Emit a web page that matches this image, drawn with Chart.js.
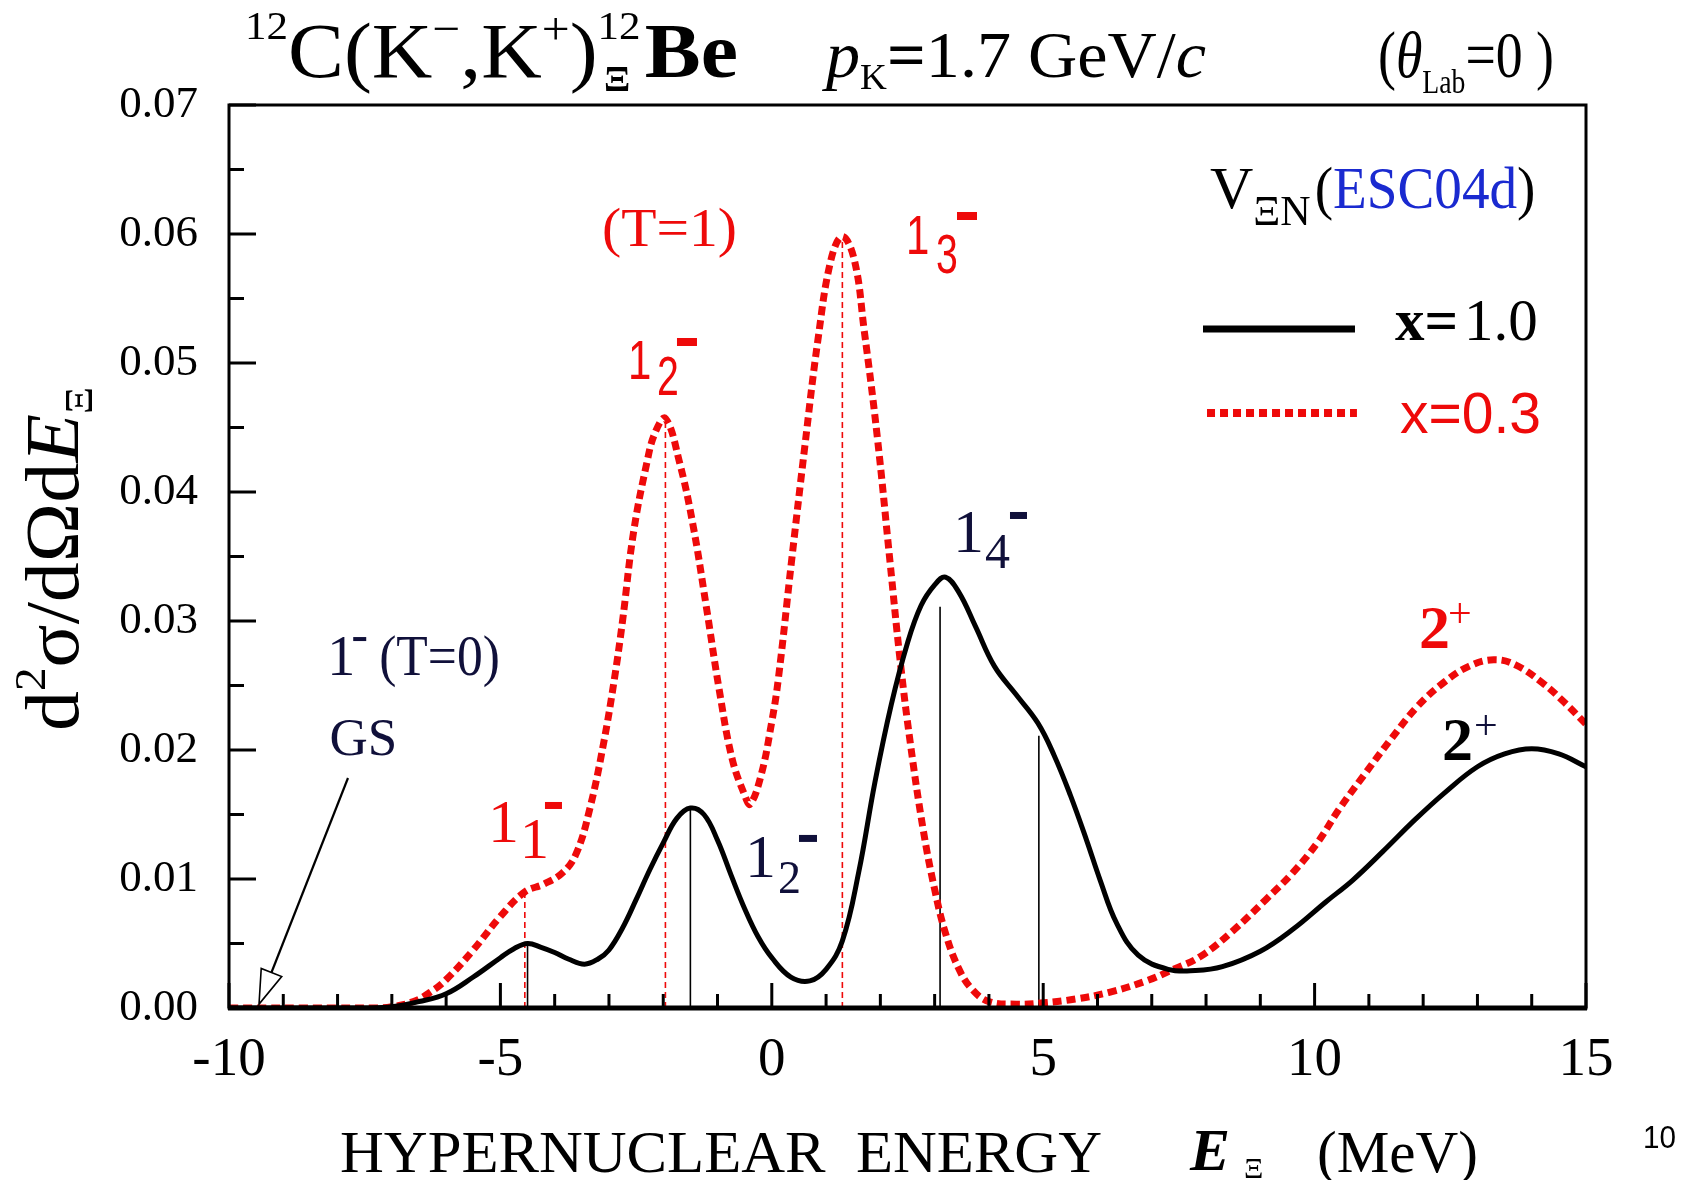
<!DOCTYPE html>
<html><head><meta charset="utf-8">
<script src="https://cdn.jsdelivr.net/npm/chart.js@4.4.0/dist/chart.umd.min.js"></script>
<style>html,body{margin:0;padding:0;background:#fff;}#wrap{width:1682px;height:1180px;position:relative;}</style>
</head><body><div id="wrap"><canvas id="c" width="1682" height="1180"></canvas></div>
<script>
// ---------- data ----------
const energyX1 = [-10,-9,-8,-7.5,-7,-6.5,-6,-5.5,-5,-4.75,-4.5,-4.25,-4,-3.75,-3.45,-3.2,-3,-2.75,-2.5,-2.25,-2,-1.75,-1.5,-1.25,-1,-0.75,-0.5,-0.25,0,0.35,0.7,1.0,1.3,1.6,1.9,2.2,2.5,2.75,3.0,3.2,3.45,3.75,4.1,4.5,4.9,5.2,5.5,5.8,6.05,6.35,6.75,7.3,7.8,8.3,9.0,9.6,10.2,10.7,11.25,11.85,12.4,13.0,13.5,14.0,14.5,15.0];
const sigmaX1 = [0,0,0,0,0.0001,0.0005,0.0011,0.0024,0.0039,0.0046,0.0050,0.0047,0.0043,0.0038,0.0034,0.0038,0.0045,0.0062,0.0084,0.0107,0.0128,0.0147,0.0155,0.0150,0.0130,0.0103,0.0077,0.0055,0.0039,0.0024,0.0021,0.0030,0.0052,0.0105,0.0175,0.0235,0.0283,0.0312,0.0328,0.0334,0.0322,0.0296,0.0265,0.0243,0.0221,0.0196,0.0165,0.0130,0.0099,0.0066,0.0041,0.0030,0.0029,0.0032,0.0044,0.0061,0.0082,0.0099,0.0121,0.0146,0.0167,0.0187,0.0197,0.0201,0.0197,0.0187];
const energyX03 = [-10,-8,-7.3,-7,-6.6,-6.3,-6,-5.5,-5,-4.55,-4.2,-3.85,-3.6,-3.35,-3.1,-2.9,-2.75,-2.55,-2.3,-2.15,-1.96,-1.7,-1.45,-1.21,-0.97,-0.73,-0.5,-0.4,-0.2,0,0.12,0.36,0.61,0.85,1.09,1.3,1.52,1.7,1.94,2.18,2.36,2.55,2.79,3.0,3.2,3.45,3.7,4.0,4.5,5.0,5.6,6.2,6.9,7.4,7.9,8.5,9.1,9.6,10.05,10.45,10.9,11.4,11.9,12.4,12.85,13.3,13.7,14.2,14.6,15.0];
const sigmaX03 = [0,0,0,0.0001,0.0005,0.0012,0.0022,0.0045,0.0071,0.0090,0.0096,0.0105,0.0120,0.0155,0.0205,0.0255,0.0300,0.0368,0.0423,0.0446,0.0457,0.0423,0.0374,0.0312,0.0247,0.0193,0.0165,0.0158,0.0180,0.0222,0.0255,0.0345,0.0436,0.0518,0.0580,0.0598,0.0580,0.0526,0.0444,0.0345,0.0271,0.0206,0.0138,0.0092,0.0058,0.0030,0.0014,0.0005,0.0003,0.0004,0.0007,0.0012,0.0021,0.0030,0.0040,0.0060,0.0084,0.0105,0.0128,0.0154,0.0180,0.0208,0.0234,0.0253,0.0265,0.0270,0.0266,0.0252,0.0237,0.0220];
const levelsX1E = [-4.5,-1.5,3.1,4.92];
const levelsX1Top = [0.0050,0.0155,0.0311,0.0211];
const levelsX03E = [-4.55,-1.96,1.3];
const levelsX03Top = [0.0090,0.0457,0.0595];
const xTickValues = [-10,-5,0,5,10,15];
const yTickValues = [0,0.01,0.02,0.03,0.04,0.05,0.06,0.07];
const seriesNames = ['x=1.0','x=0.3'];

// ---------- styles ----------
const RED = '#ee0a0a', BLACK = '#000000', NAVY = '#10103a', BLUE = '#1a2ad0';
const SERIF = 'Liberation Serif', SANS = 'Liberation Sans';

const toPts = (xs, ys) => xs.map((x, i) => ({x, y: ys[i]}));
const datasets = [
  {label: seriesNames[0], data: toPts(energyX1, sigmaX1), borderColor: BLACK, borderWidth: 5,
   showLine: true, pointRadius: 0, tension: 0.4, order: 1},
  {label: seriesNames[1], data: toPts(energyX03, sigmaX03), borderColor: RED, borderWidth: 7,
   borderDash: [9, 5], showLine: true, pointRadius: 0, tension: 0.4, order: 2},
];
levelsX1E.forEach((e, i) => datasets.push({label: 'lvl', data: [{x: e, y: 0}, {x: e, y: levelsX1Top[i]}],
  borderColor: BLACK, borderWidth: 1.6, showLine: true, pointRadius: 0, tension: 0, order: 3}));
levelsX03E.forEach((e, i) => datasets.push({label: 'lvl', data: [{x: e, y: 0}, {x: e, y: levelsX03Top[i]}],
  borderColor: RED, borderWidth: 1.6, borderDash: [6, 4], showLine: true, pointRadius: 0, tension: 0, order: 3}));

// ---------- rich text helper ----------
function drawLabel(ctx, L, ox, oy) {
  ctx.save();
  let cx = 0, maxX = 0;
  const placed = [];
  for (const p of L.parts) {
    const x = (p.x !== undefined) ? p.x : cx + (p.dx || 0);
    let w;
    if (p.bar) w = p.w; else { ctx.font = p.font; w = ctx.measureText(p.t).width * (p.sx || 1); }
    placed.push({p, x, w});
    if (!p.keep) cx = x + w;
    maxX = Math.max(maxX, x + w);
  }
  const sx = L.width ? L.width / maxX : (L.sx || 1);
  ctx.translate(ox, oy);
  if (L.rot) ctx.rotate(L.rot);
  ctx.scale(sx, 1);
  for (const {p, x} of placed) {
    ctx.fillStyle = p.color || L.color || BLACK;
    if (p.bar) { ctx.fillRect(x, p.dy, p.w, p.h); continue; }
    ctx.save();
    ctx.translate(x, p.dy || 0);
    ctx.scale(p.sx || 1, 1);
    ctx.font = p.font; ctx.textBaseline = 'alphabetic'; ctx.textAlign = 'left';
    ctx.fillText(p.t, 0, 0);
    ctx.restore();
  }
  ctx.restore();
}
const f = (size, fam, extra) => (extra ? extra + ' ' : '') + size + 'px "' + fam + '"';

// page texts (pixel anchored: outside plot)
const pageTexts = [
  {px: 245, py: 77, width: 493, parts: [
    {t: '12', font: f(40, SERIF), dy: -38},
    {t: 'C(K', font: f(78, SERIF)},
    {t: '\u2212', font: f(46, SERIF), dy: -33},
    {t: ',K', font: f(78, SERIF)},
    {t: '+', font: f(46, SERIF), dy: -33},
    {t: ')', font: f(78, SERIF)},
    {t: '\u039E', font: f(36, SERIF, 'bold'), dy: 14, dx: 6, keep: true},
    {t: '12', font: f(40, SERIF), dy: -38},
    {t: 'Be', font: f(78, SERIF, 'bold'), dx: 4}]},
  {px: 826, py: 77, width: 380, parts: [
    {t: 'p', font: f(66, SERIF, 'italic')},
    {t: 'K', font: f(36, SERIF), dy: 12},
    {t: '=', font: f(66, SERIF, 'bold')},
    {t: '1.7 GeV/', font: f(66, SERIF)},
    {t: 'c', font: f(66, SERIF, 'italic')}]},
  {px: 1378, py: 77, width: 176, parts: [
    {t: '(', font: f(66, SERIF)},
    {t: '\u03B8', font: f(66, SERIF, 'italic')},
    {t: 'Lab', font: f(34, SERIF), dy: 16},
    {t: '=0 )', font: f(66, SERIF)}]},
  {px: 78, py: 731, width: 344, rot: -Math.PI / 2, parts: [
    {t: 'd', font: f(76, SERIF)},
    {t: '2', font: f(45, SERIF), dy: -33},
    {t: '\u03C3/d\u03A9d', font: f(76, SERIF)},
    {t: 'E', font: f(76, SERIF, 'italic')},
    {t: '\u039E', font: f(40, SERIF), dy: 14}]},
  {px: 340, py: 1172, width: 762, parts: [{t: 'HYPERNUCLEAR  ENERGY', font: f(60, SERIF)}]},
  {px: 1190, py: 1170, parts: [
    {t: 'E', font: f(60, SERIF, 'bold italic')},
    {t: '\u039E', font: f(30, SERIF), dy: 8, dx: 14}]},
  {px: 1317, py: 1172, width: 161, parts: [{t: '(MeV)', font: f(60, SERIF)}]},
  {px: 1643, py: 1148, width: 33, parts: [{t: '10', font: f(32, SANS)}]},
];

// plot annotations (anchored in data coordinates: energy, cross section)
const annotations = [
  {e: -3.128, s: 0.0591, color: RED, width: 135, parts: [{t: '(T=1)', font: f(54, SERIF)}]},
  {e: -2.576, s: 0.04876, color: RED, parts: [
    {t: '1', font: f(56, SANS), sx: 0.75, x: -4},
    {t: '2', font: f(56, SANS), sx: 0.7, x: 25, dy: 16},
    {bar: true, x: 45, dy: -41, w: 20, h: 8}]},
  {e: 2.546, s: 0.05845, color: RED, parts: [
    {t: '1', font: f(56, SANS), sx: 0.75, x: -4},
    {t: '3', font: f(56, SANS), sx: 0.7, x: 26, dy: 19},
    {bar: true, x: 47, dy: -42, w: 20, h: 8}]},
  {e: -5.10, s: 0.01287, color: RED, parts: [
    {t: '1', font: f(62, SERIF), x: -7},
    {t: '1', font: f(58, SERIF), x: 25, dy: 16},
    {bar: true, x: 50, dy: -40, w: 17, h: 7}]},
  {e: -0.365, s: 0.01016, color: NAVY, parts: [
    {t: '1', font: f(62, SERIF), x: -7},
    {t: '2', font: f(46, SERIF), x: 26, dy: 16},
    {bar: true, x: 47, dy: -42, w: 18, h: 7}]},
  {e: 3.467, s: 0.03535, color: NAVY, parts: [
    {t: '1', font: f(62, SERIF), x: -7},
    {t: '4', font: f(50, SERIF), x: 25, dy: 16},
    {bar: true, x: 50, dy: -40, w: 17, h: 7}]},
  {e: 11.94, s: 0.0279, color: RED, parts: [
    {t: '2', font: f(62, SERIF, 'bold'), x: -1},
    {t: '+', font: f(42, SERIF), x: 28, dy: -21}]},
  {e: 12.365, s: 0.01922, color: BLACK, parts: [
    {t: '2', font: f(62, SERIF, 'bold'), x: -1},
    {t: '+', font: f(42, SERIF), x: 31, dy: -21, color: NAVY}]},
  {e: -8.08, s: 0.02581, color: NAVY, parts: [
    {t: '1', font: f(56, SERIF), x: -6},
    {bar: true, x: 20, dy: -38, w: 13, h: 4},
    {t: '(T=0)', font: f(56, SERIF), x: 46, sx: 0.92}]},
  {e: -8.15, s: 0.01961, color: NAVY, parts: [{t: 'GS', font: f(53, SERIF)}]},
  // legend block
  {e: 8.073, s: 0.0620, color: BLACK, parts: [
    {t: 'V', font: f(60, SERIF)},
    {t: '\u039EN', font: f(42, SERIF), dy: 17},
    {t: '(', font: f(60, SERIF), dx: 4, sx: 0.92},
    {t: 'ESC04d', font: f(60, SERIF), sx: 0.92, color: BLUE},
    {t: ')', font: f(60, SERIF), sx: 0.92}]},
  {e: 11.48, s: 0.05178, color: BLACK, parts: [
    {t: 'x=', font: f(59, SERIF, 'bold')},
    {t: '1.0', font: f(59, SERIF), dx: 6}]},
  {e: 11.573, s: 0.04457, color: RED, parts: [{t: 'x=0.3', font: f(57, SANS)}]},
];
const legendLines = [
  {e0: 7.944, e1: 10.744, s: 0.05264, color: BLACK, width: 7, dash: []},
  {e0: 8.018, e1: 10.78, s: 0.04612, color: RED, width: 8, dash: [8, 5]},
];
const gsArrow = {e0: -7.808, s0: 0.01783, e1: -9.447, s1: 0.0003};
const xMinorStep = 1, yMinorStep = 0.005;

const decor = {
  id: 'decor',
  afterDatasetsDraw(chart) {
    const ctx = chart.ctx, a = chart.chartArea, xs = chart.scales.x, ys = chart.scales.y;
    ctx.save();
    // frame
    ctx.strokeStyle = BLACK; ctx.lineWidth = 3; ctx.setLineDash([]);
    ctx.strokeRect(a.left, a.top, a.right - a.left, a.bottom - a.top);
    ctx.lineWidth = 5;
    ctx.beginPath(); ctx.moveTo(a.left - 1, a.bottom); ctx.lineTo(a.right + 1, a.bottom); ctx.stroke();
    // inward ticks
    ctx.lineWidth = 3;
    for (let v = xs.min; v <= xs.max + 1e-9; v += xMinorStep) {
      const px = xs.getPixelForValue(v);
      const len = Math.abs(v % 5) < 1e-9 ? 25 : 14;
      ctx.beginPath(); ctx.moveTo(px, a.bottom); ctx.lineTo(px, a.bottom - len); ctx.stroke();
    }
    for (let k = 0; k <= Math.round((ys.max - ys.min) / yMinorStep); k++) {
      const v = ys.min + k * yMinorStep;
      const py = ys.getPixelForValue(v);
      const len = k % 2 === 0 ? 27 : 15;
      ctx.beginPath(); ctx.moveTo(a.left, py); ctx.lineTo(a.left + len, py); ctx.stroke();
    }
    // legend lines
    for (const l of legendLines) {
      ctx.strokeStyle = l.color; ctx.lineWidth = l.width; ctx.setLineDash(l.dash); ctx.lineCap = 'butt';
      const y = ys.getPixelForValue(l.s);
      ctx.beginPath(); ctx.moveTo(xs.getPixelForValue(l.e0), y); ctx.lineTo(xs.getPixelForValue(l.e1), y); ctx.stroke();
    }
    ctx.setLineDash([]);
    // GS arrow
    const x0 = xs.getPixelForValue(gsArrow.e0), y0 = ys.getPixelForValue(gsArrow.s0);
    const x1 = xs.getPixelForValue(gsArrow.e1), y1 = ys.getPixelForValue(gsArrow.s1);
    const ang = Math.atan2(y1 - y0, x1 - x0), hl = 34, hw = 11;
    const bx = x1 - hl * Math.cos(ang), by = y1 - hl * Math.sin(ang);
    ctx.strokeStyle = BLACK; ctx.lineWidth = 2.2;
    ctx.beginPath(); ctx.moveTo(x0, y0); ctx.lineTo(bx, by); ctx.stroke();
    ctx.beginPath();
    ctx.moveTo(x1, y1);
    ctx.lineTo(bx + hw * Math.sin(ang), by - hw * Math.cos(ang));
    ctx.lineTo(bx - hw * Math.sin(ang), by + hw * Math.cos(ang));
    ctx.closePath(); ctx.fillStyle = '#fff'; ctx.fill(); ctx.lineWidth = 1.6; ctx.stroke();
    // annotations
    for (const L of annotations) drawLabel(ctx, L, xs.getPixelForValue(L.e), ys.getPixelForValue(L.s));
    for (const L of pageTexts) drawLabel(ctx, L, L.px, L.py);
    ctx.restore();
  }
};

new Chart(document.getElementById('c'), {
  type: 'scatter',
  data: {datasets},
  options: {
    responsive: false, animation: false, devicePixelRatio: 1,
    layout: {padding: {top: 105, right: 96, left: 0, bottom: 0}},
    plugins: {legend: {display: false}, tooltip: {enabled: false}, title: {display: false}},
    elements: {line: {borderCapStyle: 'butt'}},
    scales: {
      x: {type: 'linear', min: -10, max: 15,
        grid: {display: false, drawTicks: false}, border: {display: false},
        afterBuildTicks: s => { s.ticks = xTickValues.map(v => ({value: v})); },
        afterFit: s => { s.height = 172; },
        ticks: {color: BLACK, padding: 20, maxRotation: 0, autoSkip: false,
          font: {family: SERIF, size: 55}, callback: v => String(v)}},
      y: {type: 'linear', min: 0, max: 0.07,
        grid: {display: false, drawTicks: false}, border: {display: false},
        afterBuildTicks: s => { s.ticks = yTickValues.map(v => ({value: v})); },
        afterFit: s => { s.width = 229; },
        ticks: {color: BLACK, padding: 31, autoSkip: false,
          font: {family: SERIF, size: 45}, callback: v => v.toFixed(2)}}
    }
  },
  plugins: [decor]
});
</script></body></html>
